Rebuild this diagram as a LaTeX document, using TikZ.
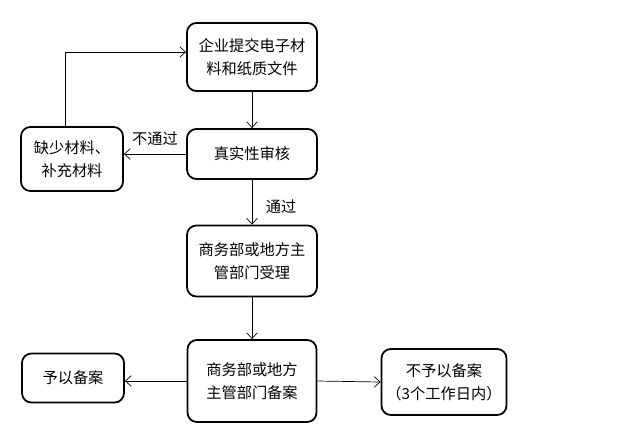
\documentclass[tikz,border=0pt]{standalone}
\usepackage{fontspec}
\setmainfont{Noto Sans CJK SC}
\usetikzlibrary{arrows.meta, positioning, calc}

\begin{document}
\begin{tikzpicture}[
  x=0.03cm, y=-0.03cm,
  every node/.style={font=\fontsize{13}{19.5}\selectfont},
  stepbox/.style={draw, rounded corners=8pt, line width=1.5pt, fill=white,
                  align=center, inner sep=2pt},
  arr/.style={-{Straight Barb[length=5pt, width=9pt]}, line width=0.6pt}
]
  \useasboundingbox (0,0) rectangle (623,446);

  %% Middle column
  \node[stepbox, minimum width=3.9cm, minimum height=2.04cm] (submit) at (252, 57)
    {企业提交电子材\\料和纸质文件};
  \node[stepbox, minimum width=3.9cm, minimum height=1.5cm]  (check)  at (252,154)
    {真实性审核};
  \node[stepbox, minimum width=3.9cm, minimum height=2.13cm] (accept) at (252,261)
    {商务部或地方主\\管部门受理};
  \node[stepbox, minimum width=3.87cm, minimum height=2.46cm] (record) at (252,381)
    {商务部或地方\\主管部门备案};

  %% Side boxes
  \node[stepbox, minimum width=3.06cm, minimum height=1.92cm] (lack)   at (72,159)
    {缺少材料、\\补充材料};
  \node[stepbox, minimum width=3.06cm, minimum height=1.47cm] (filed)  at (73,378)
    {予以备案};
  \node[stepbox, minimum width=3.75cm, minimum height=1.98cm] (refuse) at (444,382)
    {不予以备案\\（3个工作日内）};

  %% Labels
  \node (nopass) at (155,139) {不通过};
  \node (pass)   at (281,207) {通过};

  %% Arrows
  \draw[arr] (submit) -- (check);
  \draw[arr] (check.west) -- (check.west -| lack.east);
  \draw[arr] ([xshift=-0.21cm]lack.north) |- ([yshift=0.15cm]submit.west);
  \draw[arr] (check) -- (accept);
  \draw[arr] (accept) -- (record);
  \draw[arr] (record.west) -- (record.west -| filed.east);
  \draw[arr] (record.east) -- (refuse.west);
\end{tikzpicture}
\end{document}
